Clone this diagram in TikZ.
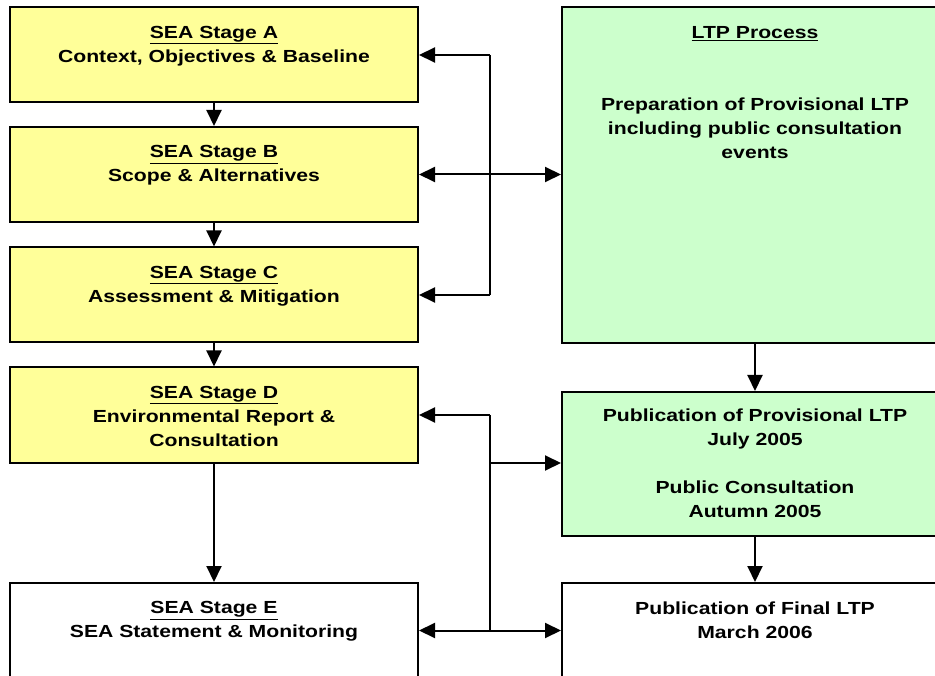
\documentclass[tikz,border=0pt]{standalone}
\usepackage{fontspec}
\setmainfont{Liberation Sans}[FakeStretch=1.21]
\usetikzlibrary{arrows.meta,positioning,calc}
\definecolor{seayellow}{HTML}{FFFF99}
\definecolor{ltpgreen}{HTML}{CCFFCC}
\newcommand{\boxwd}{408pt}
\tikzset{
    basesty/.style={draw,line width=2pt,rectangle,inner sep=0pt,minimum width=\boxwd},
    seasty/.style={basesty,fill=seayellow,minimum height=95pt},
    whsty/.style={basesty,fill=white,minimum height=95pt},
    ltpsty/.style={basesty,fill=ltpgreen,minimum width=386pt},
    txtsty/.style={anchor=north,inner sep=0pt,align=center,font=\fontsize{17.5}{24}\selectfont\bfseries},
    arrsty/.style={line width=2pt,-{Triangle[length=16pt,width=15pt]}},
    dblsty/.style={line width=2pt,{Triangle[length=16pt,width=15pt]}-{Triangle[length=16pt,width=15pt]}},
    linesty/.style={line width=2pt},
}
\begin{document}
\begin{tikzpicture}[x=1pt,y=-1pt]
  \useasboundingbox (0,0) rectangle (935,676);
  \clip (0,0) rectangle (935,676);

  \node[seasty] (A) at (214,55) {};
  \node[seasty] (B) at (214,174.5) {};
  \node[seasty] (C) at (214,295) {};
  \node[seasty] (D) at (214,415) {};
  \node[whsty]  (E) at (214,630.5) {};
  \node[ltpsty,minimum height=335.5pt] (L) at (755,175.25) {};
  \node[ltpsty,minimum height=144pt]   (P) at (755,464) {};
  \node[ltpsty,fill=white,minimum height=95pt] (F) at (755,630.5) {};

  \node[txtsty] (tA) at ([yshift=-19.5pt]A.north) {\underline{SEA Stage A}\\Context, Objectives \& Baseline};
  \node[txtsty] (tB) at ([yshift=-19.5pt]B.north) {\underline{SEA Stage B}\\Scope \& Alternatives};
  \node[txtsty] (tC) at ([yshift=-19.5pt]C.north) {\underline{SEA Stage C}\\Assessment \& Mitigation};
  \node[txtsty] (tD) at ([yshift=-19.5pt]D.north) {\underline{SEA Stage D}\\Environmental Report \&\\Consultation};
  \node[txtsty] (tE) at ([yshift=-19.5pt]E.north) {\underline{SEA Stage E}\\SEA Statement \& Monitoring};
  \node[txtsty] (tL) at ([yshift=-19.5pt]L.north) {\underline{LTP Process}\\[48pt]Preparation of Provisional LTP\\including public consultation\\events};
  \node[txtsty] (tP) at ([yshift=-17.5pt]P.north) {Publication of Provisional LTP\\July 2005\\[24pt]Public Consultation\\Autumn 2005};
  \node[txtsty] (tF) at ([yshift=-19.5pt]F.north) {Publication of Final LTP\\March 2006};

  \draw[arrsty] (A) -- (B);
  \draw[arrsty] (B) -- (C);
  \draw[arrsty] (C) -- (D);
  \draw[arrsty] (D) -- (E);
  \draw[arrsty] (L) -- (P);
  \draw[arrsty] (P) -- (F);

  \coordinate (up) at (490,55);
  \coordinate (lo) at (490,295);
  \draw[linesty] (up) -- (lo);
  \draw[arrsty] (up) -- (A.east);
  \draw[arrsty] (lo) -- (C.east);
  \draw[dblsty] (B.east) -- (B.east -| L.west);

  \coordinate (dup) at (490,415);
  \coordinate (dlo) at (490,630.5);
  \coordinate (dmid) at (490,463);
  \draw[linesty] (dup) -- (dlo);
  \draw[arrsty] (dup) -- (D.east);
  \draw[arrsty] (dmid) -- (dmid -| P.west);
  \draw[dblsty] (E.east) -- (F.west);
\end{tikzpicture}
\end{document}
